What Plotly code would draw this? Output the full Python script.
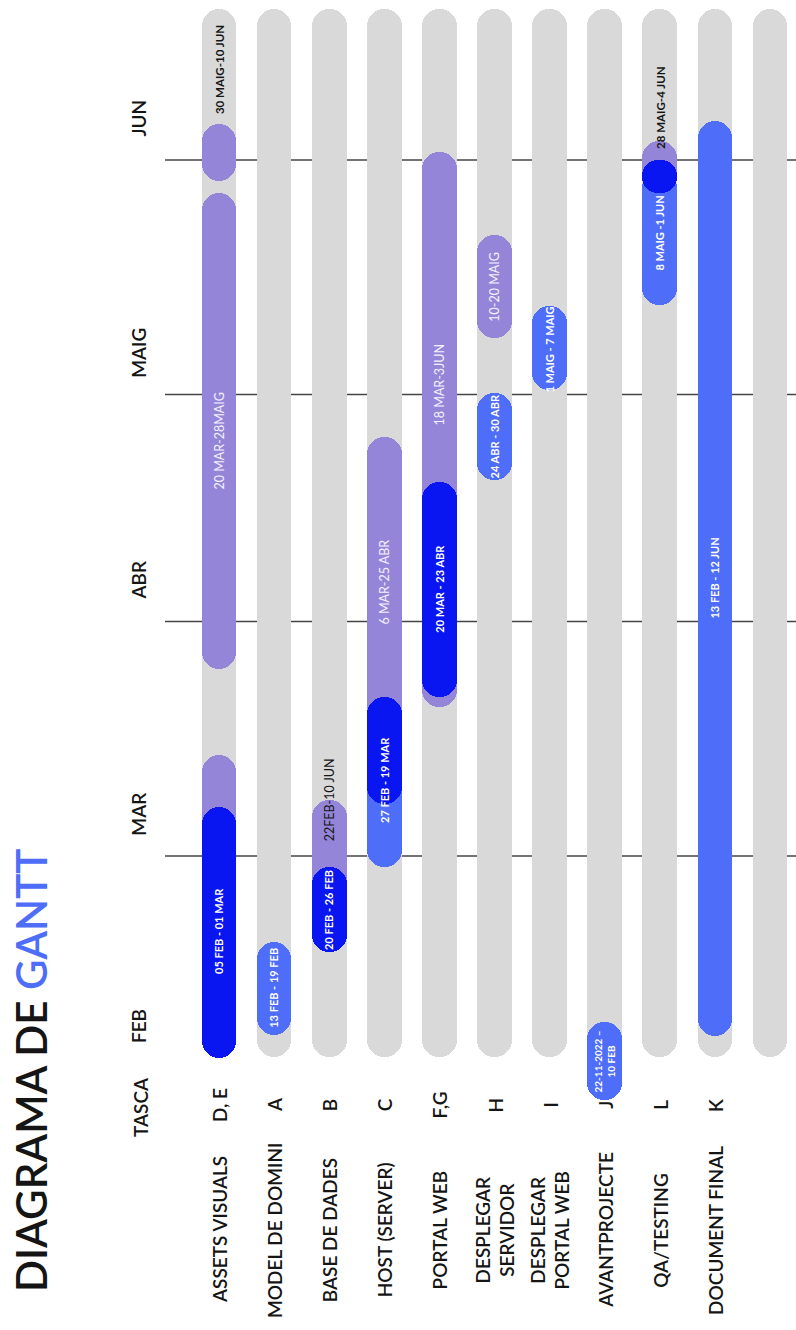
import plotly.graph_objects as go

# ---------------- data (dates as day-of-year 2023, 0 = 1 Jan) ----------------
task_names = ["ASSETS VISUALS", "MODEL DE DOMINI", "BASE DE DADES", "HOST (SERVER)",
              "PORTAL WEB", "DESPLEGAR<br>SERVIDOR", "DESPLEGAR<br>PORTAL WEB",
              "AVANTPROJECTE", "QA/TESTING", "DOCUMENT FINAL"]
task_codes = ["D, E", "A", "B", "C", "F,G", "H", "I", "J", "L", "K"]
n_tracks = 11                      # 10 tasks + one empty track
track_start, track_end = 32.4, 171.0

month_names = ["FEB", "MAR", "ABR", "MAIG", "JUN"]
month_days = [31, 59, 90, 120, 151]

purple_task = [0, 0, 0, 2, 3, 4, 5, 8]
purple_start = [34.7, 83.7, 148.3, 47.9, 71.7, 78.7, 127.5, 147.0]
purple_end = [72.4, 146.6, 155.8, 66.4, 114.4, 152.1, 141.1, 153.5]

light_task = [1, 3, 5, 6, 7, 8, 9]
light_start = [35.4, 57.6, 108.7, 120.6, 26.7, 131.8, 35.2]
light_end = [47.6, 74.3, 120.2, 131.7, 37.1, 149.6, 156.2]

dark_task = [0, 2, 3, 4, 8]
dark_start = [32.3, 46.3, 65.9, 80.0, 146.6]
dark_end = [65.5, 57.6, 80.0, 108.5, 151.0]

label_task = [0, 0, 0, 1, 2, 2, 3, 3, 4, 4, 5, 5, 6, 7, 8, 8, 9]
label_day = [49.1, 113.8, 162.9, 41.6, 66.4, 51.9, 95.2, 69.1, 121.4, 94.4,
             134.2, 114.4, 125.9, 31.8, 158.0, 141.4, 95.8]
label_text = ["05 FEB - 01 MAR", "20 MAR-28MAIG", "30 MAIG-10 JUN", "13 FEB - 19 FEB",
              "22FEB-10 JUN", "20 FEB - 26 FEB", "6 MAR-25 ABR", "27 FEB - 19 MAR",
              "18 MAR-3JUN", "20 MAR - 23 ABR", "10-20 MAIG", "24 ABR - 30 ABR",
              "1 MAIG - 7 MAIG", "22-11-2022 –<br>10 FEB", "28 MAIG-4 JUN",
              "8 MAIG -1 JUN", "13 FEB - 12 JUN"]
label_kind = ["wb", "wl", "kb", "wb", "kl", "wb", "wl", "wb", "wl", "wb",
              "wl", "wb", "wb", "ws", "kb", "wb", "wb"]

# ---------------- styles ----------------
GRAY = "#d9d9d9"
PURPLE = "#9585d9"
LIGHT = "#4e6df8"
DARK = "#0a16f2"
GRID = "#444444"
INK = "#151515"
FONT = "Lato"
W = 0.63


def pill(x, s, e, color):
    return go.Bar(x=x, base=s, y=[b - a for a, b in zip(s, e)], width=W,
                  hoverinfo="skip", showlegend=False,
                  marker=dict(color=color, cornerradius="50%", line=dict(width=0)))


fig = go.Figure()
tracks = list(range(n_tracks))
fig.add_trace(pill(tracks, [track_start] * n_tracks, [track_end] * n_tracks, GRAY))
fig.add_trace(pill(purple_task, purple_start, purple_end, PURPLE))
fig.add_trace(pill(light_task, light_start, light_end, LIGHT))
fig.add_trace(pill(dark_task, dark_start, dark_end, DARK))

# month gridlines (not for FEB)
shapes = [dict(type="line", xref="paper", x0=0, x1=1, yref="y", y0=d, y1=d,
               line=dict(color=GRID, width=1.5), layer="below")
          for d in month_days[1:]]

ann = []
styles = {
    "wb": dict(color="white", size=11, weight="bold"),
    "wl": dict(color="#f3f1ff", size=12.5, weight="normal"),
    "kb": dict(color=INK, size=11.5, weight="bold"),
    "kl": dict(color=INK, size=12.5, weight="normal"),
    "ws": dict(color="white", size=10, weight="bold"),
}
for t, d, txt, k in zip(label_task, label_day, label_text, label_kind):
    st = styles[k]
    ann.append(dict(x=t, y=d, xref="x", yref="y", text=txt, showarrow=False,
                    textangle=-90, xanchor="center", yanchor="middle",
                    font=dict(family=FONT, size=st["size"], color=st["color"],
                              weight=st["weight"])))

PLOT_H = 1110
lab_font = dict(family=FONT, size=19, color=INK, weight=600)
for i, (nm, cd) in enumerate(zip(task_names, task_codes)):
    ann.append(dict(x=i, y=(PLOT_H - 1230) / PLOT_H, xref="x", yref="paper", text=nm,
                    showarrow=False, textangle=-90, xanchor="center", yanchor="middle",
                    font=lab_font))
    ann.append(dict(x=i, y=(PLOT_H - 1105) / PLOT_H, xref="x", yref="paper", text=cd,
                    showarrow=False, textangle=-90, xanchor="center", yanchor="middle",
                    font=lab_font))

ann.append(dict(x=(140 - 165) / 631, y=(PLOT_H - 1107) / PLOT_H, xref="paper", yref="paper",
                text="TASCA", showarrow=False, textangle=-90, xanchor="center",
                yanchor="middle", font=lab_font))
ann.append(dict(x=(31 - 165) / 631, y=(PLOT_H - 1071) / PLOT_H, xref="paper", yref="paper",
                text="DIAGRAMA DE <span style='color:#4e6df8'>GANTT</span>",
                showarrow=False, textangle=-90, xanchor="center", yanchor="middle",
                font=dict(family=FONT, size=42, color=INK, weight=600)))

fig.update_layout(
    width=796, height=1330,
    margin=dict(l=165, r=0, t=0, b=1330 - PLOT_H, pad=0),
    paper_bgcolor="white", plot_bgcolor="white",
    barmode="overlay", bargap=0, bargroupgap=0,
    xaxis=dict(range=[-0.98, 10.472], visible=False, fixedrange=True),
    yaxis=dict(range=[25.43, 172.16], tickvals=month_days, ticktext=month_names,
               tickangle=-90, ticklabelshift=-39, ticklabelstandoff=14,
               showgrid=False, zeroline=False, showline=False, ticks="",
               tickfont=dict(family=FONT, size=19, color=INK, weight=600),
               fixedrange=True),
    shapes=shapes,
    annotations=ann,
)

fig.write_html("out.html")
